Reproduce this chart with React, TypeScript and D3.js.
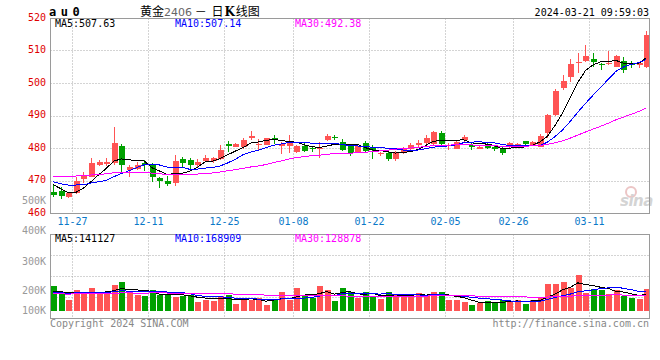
import React from "react";
import * as d3 from "d3";

// ---------------- data ----------------
const dates = [
  "11-23","11-24","11-27","11-28","11-29","11-30","12-01","12-04","12-05","12-06",
  "12-07","12-08","12-11","12-12","12-13","12-14","12-15","12-18","12-19","12-20",
  "12-21","12-22","12-25","12-26","12-27","12-28","12-29","01-02","01-03","01-04",
  "01-05","01-08","01-09","01-10","01-11","01-12","01-15","01-16","01-17","01-18",
  "01-19","01-22","01-23","01-24","01-25","01-26","01-29","01-30","01-31","02-01",
  "02-02","02-05","02-06","02-07","02-08","02-19","02-20","02-21","02-22","02-23",
  "02-26","02-27","02-28","02-29","03-01","03-04","03-05","03-06","03-07","03-08",
  "03-11","03-12","03-13","03-14","03-15","03-18","03-19","03-20","03-21",
];
const opens = [
  466.6,466.7,464.8,466.1,470.6,471.2,474.8,475.0,475.5,480.6,
  473.3,473.5,475.3,474.8,470.9,469.9,469.3,476.6,476.3,474.9,
  476.0,475.9,476.5,481.1,480.4,480.4,483.0,480.8,481.0,483.2,
  480.6,480.7,478.9,480.7,480.0,479.6,482.5,483.5,481.7,480.7,
  478.6,481.4,480.2,478.2,478.5,476.7,478.4,479.8,480.9,481.4,
  481.3,484.7,480.7,479.8,482.4,481.0,479.8,481.0,480.3,479.8,
  480.4,480.8,482.1,481.0,480.4,484.5,490.3,498.4,501.8,506.1,
  506.9,507.3,506.0,505.8,505.0,506.7,506.3,505.6,505.0,
];
const highs = [
  468.5,467.9,466.3,471.2,472.7,477.0,476.3,476.8,486.6,481.3,
  474.8,475.8,476.3,475.5,471.0,471.5,477.8,477.3,476.8,476.5,
  477.8,477.3,480.9,482.3,481.6,483.1,485.1,482.7,483.2,483.9,
  481.8,484.0,480.8,481.5,480.7,481.7,484.2,484.0,482.9,480.9,
  480.9,482.1,480.9,478.9,479.0,479.1,480.2,481.4,482.6,483.9,
  485.1,485.2,481.4,482.5,484.0,481.5,480.6,482.0,480.8,480.2,
  481.8,481.4,482.2,482.1,484.2,490.4,498.2,502.5,507.4,509.3,
  511.7,509.2,506.2,509.8,508.7,508.0,506.9,506.5,516.0,
];
const lows = [
  465.0,464.3,464.5,465.8,469.3,471.0,474.5,474.6,474.8,472.2,
  471.2,473.2,472.8,469.6,467.6,468.3,468.3,474.2,473.2,474.2,
  475.8,475.5,476.3,478.9,480.2,479.8,482.5,479.0,480.8,481.3,
  478.3,478.5,478.5,478.7,478.9,477.0,482.3,482.5,479.2,477.5,
  478.4,478.8,476.5,477.5,476.0,476.0,478.2,479.5,480.3,481.0,
  481.0,481.0,479.4,479.6,482.0,479.3,479.6,479.7,479.0,478.0,
  480.1,480.6,480.9,480.8,480.2,483.0,490.0,497.9,500.4,503.0,
  506.6,504.8,503.9,505.6,504.8,503.2,504.6,504.7,504.7,
];
const closes = [
  465.5,465.1,466.1,469.9,471.6,475.4,475.7,475.8,481.5,474.7,
  474.1,474.8,474.9,471.2,469.7,468.8,476.0,475.3,474.7,475.7,
  477.0,477.0,479.4,480.6,481.3,482.5,483.7,481.2,483.0,482.6,
  481.3,481.6,480.5,479.0,479.7,480.0,483.8,483.1,479.5,478.5,
  480.6,479.1,479.3,478.5,476.7,478.6,479.8,480.9,481.6,483.0,
  485.0,481.3,481.0,481.7,483.5,480.4,480.4,480.0,479.6,478.4,
  481.4,481.1,481.1,481.9,483.8,490.2,497.6,500.6,505.9,506.6,
  508.3,506.4,505.5,506.3,508.3,503.9,505.5,506.3,514.8,
];
const volumes = [
  211000,154000,91000,177000,148000,199000,148000,148000,220000,245000,
  154000,134000,126000,177000,134000,134000,120000,126000,134000,77000,
  97000,85000,126000,134000,62000,97000,97000,114000,49000,105000,
  160000,97000,194000,126000,114000,211000,182000,85000,194000,160000,
  114000,160000,126000,100000,160000,143000,134000,126000,151000,126000,
  160000,160000,91000,91000,74000,54000,68000,83000,68000,97000,
  85000,97000,60000,91000,114000,228000,228000,248000,194000,305000,
  154000,185000,177000,143000,177000,128000,114000,100000,191000,
];
// sessions before the visible window (estimated from where the MA lines start)
const priorCloses = [
  463.5,465.0,467.2,468.0,469.5,470.2,471.0,471.5,472.3,472.8,
  474.0,476.2,477.5,475.8,474.3,475.1,476.0,474.6,473.2,472.4,
  471.0,470.2,469.8,470.7,470.3,471.6,472.1,469.9,464.9,
];
const priorVolumes = [
  150000,135000,128000,160000,172000,148000,130000,120000,138000,155000,
  165000,142000,128000,136000,150000,146000,132000,125000,140000,140000,
  130000,145000,138000,152000,135000,162000,150000,170000,147000,
];
const priceTicks = [520, 510, 500, 490, 480, 470, 460];
const dateTicks = ["11-27","12-11","12-25","01-08","01-22","02-05","02-26","03-11"];
const volTickLabels = ["500K","400K","300K","200K","100K"];
const priceMaLabels = ["MA5:507.63","MA10:507.14","MA30:492.38"];
const volMaLabels = ["MA5:141127","MA10:168909","MA30:128878"];
const maPeriods = [5, 10, 30];
const titleParts = ["黄金", "2406", " － ", "日", "K", "线图"];
const symbolText = "au0";
const timeText = "2024-03-21 09:59:03";

// ---------------- styles ----------------
const RED = "#ff5454";
const GREEN = "#00a000";
const MA_COLORS = ["#000000", "#0000ff", "#ff00ff"];
const GRID = "#a8a8a8";
const BORDER = "#9a9a9a";
const MONO = "'DejaVu Sans Mono', monospace";

function movingAverage(prior: number[], vals: number[], n: number): number[] {
  const all = prior.concat(vals);
  const off = prior.length;
  return vals.map((_, i) => d3.mean(all.slice(off + i - n + 1, off + i + 1)) as number);
}

export default function App() {
  const n = closes.length;
  const x = d3.scaleBand<number>().domain(d3.range(n)).range([49.1, 650.1]).padding(0);
  const bw = x.bandwidth();
  const cx = (i: number) => (x(i) as number) + bw / 2;
  const y = d3.scaleLinear().domain([460, 520]).range([213, 18]);
  const yv = d3.scaleLinear().domain([0, 100000]).range([311, 299.3]);

  const main = { l: 50.5, t: 18.5, r: 649.5, b: 213.5 };
  const vol = { l: 50.5, t: 234.5, r: 649.5, b: 318.5 };
  const volLabelY = [203.5, 233.5, 264.5, 293.5, 313.5];

  const priceMAs = maPeriods.map((p) => movingAverage(priorCloses, closes, p));
  const volMAs = maPeriods.map((p) => movingAverage(priorVolumes, volumes, p));

  const lineP = d3.line<number>().x((_, i) => cx(i)).y((d) => y(d));
  const lineV = d3.line<number>().x((_, i) => cx(i)).y((d) => yv(d));

  const gridX = dateTicks.map((d) => {
    const i = dates.indexOf(d);
    return Math.round((x(i) as number) + bw) + 0.5;
  });

  const bodyW = 6;
  const CJK = "'Noto Sans CJK SC', sans-serif";

  return (
    <svg
      width={660}
      height={360}
      style={{ position: "absolute", left: 0, top: 0, background: "#fff" }}
      fontFamily={MONO}
    >
      <rect x={0} y={0} width={660} height={360} fill="#fff" />

      {/* header */}
      <text x={49} y={15.5} fontSize={12} fontWeight="bold" letterSpacing={4.5} fill="#000">
        {symbolText}
      </text>
      <text x={140} y={15.5} fontSize={12} fill="#000" fontFamily={CJK} style={{ whiteSpace: "pre" }}>
        <tspan>{titleParts[0]}</tspan>
        <tspan fill="#666" fontFamily="'DejaVu Sans', sans-serif" fontSize={11}>{titleParts[1]}</tspan>
        <tspan>{titleParts[2]}</tspan>
        <tspan dx={2}>{titleParts[3]}</tspan>
        <tspan dx={1} fontWeight="bold" fontFamily="'DejaVu Serif', serif">{titleParts[4]}</tspan>
        <tspan dx={1}>{titleParts[5]}</tspan>
      </text>
      <text x={649} y={15.5} fontSize={10} textAnchor="end" fill="#000">
        {timeText}
      </text>

      {/* main panel grid */}
      {priceTicks.filter((v) => v > 460 && v < 520).map((v) => (
        <line key={"hg" + v} x1={main.l} x2={main.r} y1={Math.round(y(v)) + 0.5} y2={Math.round(y(v)) + 0.5}
          stroke={GRID} strokeDasharray="1,2" />
      ))}
      {gridX.map((gx, k) => (
        <line key={"vg" + k} x1={gx} x2={gx} y1={main.t} y2={main.b} stroke={GRID} strokeDasharray="1,2" />
      ))}
      {/* volume panel grid */}
      {[1, 2, 3].map((k) => {
        const gy = vol.t + ((vol.b - vol.t) * k) / 4;
        return <line key={"vh" + k} x1={vol.l} x2={vol.r} y1={gy} y2={gy} stroke={GRID} strokeDasharray="1,2" />;
      })}
      {gridX.map((gx, k) => (
        <line key={"vv" + k} x1={gx} x2={gx} y1={vol.t} y2={vol.b} stroke={GRID} strokeDasharray="1,2" />
      ))}

      {/* price axis labels */}
      {priceTicks.map((v) => (
        <text key={"pl" + v} x={46} y={y(v) + 2.5} fontSize={10} textAnchor="end" fill="#e00000">
          {v}
        </text>
      ))}
      {/* volume axis labels */}
      {volTickLabels.map((t, k) => (
        <text key={"vl" + t} x={46} y={volLabelY[k]} fontSize={10} textAnchor="end" fill="#999">
          {t}
        </text>
      ))}
      {/* date labels */}
      {dateTicks.map((d, k) => (
        <text key={"dl" + d} x={gridX[k]} y={225} fontSize={10} textAnchor="middle" fill="#0a78c8">
          {d}
        </text>
      ))}

      {/* watermark */}
      <g opacity={0.6}>
        <circle cx={631} cy={192} r={5} fill="none" stroke="#e0a0a0" strokeWidth={2} />
        <text x={620} y={206} fontSize={15} fontStyle="italic" fontWeight="bold" fill="#b8b8b8"
          fontFamily="'DejaVu Sans', sans-serif" letterSpacing={-0.5}>
          sina
        </text>
      </g>

      {/* candles */}
      {closes.map((c, i) => {
        const o = opens[i];
        const up = c >= o;
        const col = up ? RED : GREEN;
        const xc = Math.round(cx(i));
        const top = y(Math.max(o, c));
        const bot = y(Math.min(o, c));
        return (
          <g key={"c" + i} shapeRendering="crispEdges">
            <line x1={xc + 0.5} x2={xc + 0.5} y1={y(highs[i])} y2={y(lows[i])} stroke={col} />
            <rect x={xc - bodyW / 2 + 0.5} y={top} width={bodyW} height={Math.max(1, bot - top)} fill={col} />
          </g>
        );
      })}

      {/* price MAs */}
      {priceMAs.map((m, k) => (
        <path key={"pm" + k} d={lineP(m) || ""} fill="none" stroke={MA_COLORS[k]} strokeWidth={1}
          shapeRendering="crispEdges" />
      ))}

      {/* volume bars */}
      {volumes.map((v, i) => {
        const up = closes[i] >= opens[i];
        const xc = Math.round(cx(i));
        return (
          <rect key={"v" + i} x={xc - bodyW / 2 + 0.5} y={yv(v)} width={bodyW} height={yv(0) - yv(v)}
            fill={up ? RED : GREEN} shapeRendering="crispEdges" />
        );
      })}
      {volMAs.map((m, k) => (
        <path key={"vm" + k} d={lineV(m) || ""} fill="none" stroke={MA_COLORS[k]} strokeWidth={1}
          shapeRendering="crispEdges" />
      ))}

      {/* panel borders */}
      <rect x={main.l} y={main.t} width={main.r - main.l} height={main.b - main.t} fill="none" stroke={BORDER} />
      <rect x={vol.l} y={vol.t} width={vol.r - vol.l} height={vol.b - vol.t} fill="none" stroke={BORDER} />

      {/* MA legends */}
      {priceMaLabels.map((t, k) => (
        <text key={"pml" + k} x={55 + k * 120} y={26.5} fontSize={10} fill={MA_COLORS[k]}>
          {t}
        </text>
      ))}
      {volMaLabels.map((t, k) => (
        <text key={"vml" + k} x={55 + k * 120} y={242} fontSize={10} fill={MA_COLORS[k]}>
          {t}
        </text>
      ))}

      {/* footer */}
      <text x={50} y={327} fontSize={10} fill="#888">Copyright 2024 SINA.COM</text>
      <text x={649} y={327} fontSize={10} textAnchor="end" fill="#888">http://finance.sina.com.cn</text>
    </svg>
  );
}
